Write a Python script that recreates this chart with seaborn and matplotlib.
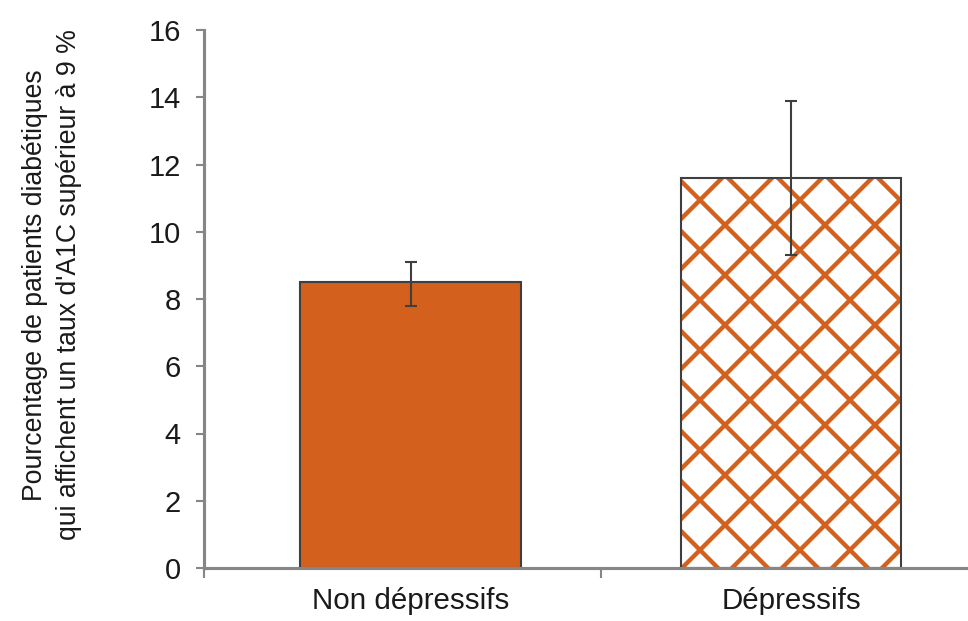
import matplotlib
matplotlib.use("Agg")
import matplotlib.pyplot as plt
import seaborn as sns
import pandas as pd
from matplotlib.colors import to_rgba

categories = ["Non dépressifs", "Dépressifs"]
values = [8.5, 11.6]
err_low = [7.8, 9.3]
err_high = [9.1, 13.9]
yticks = [0, 2, 4, 6, 8, 10, 12, 14, 16]
ylabel = "Pourcentage de patients diabétiques\nqui affichent un taux d'A1C supérieur à 9 %"

orange = "#D3601D"
edge = "#3F3F3F"
spine_c = "#868686"
text_c = "#1A1A1A"

sns.set_style("white")
plt.rcParams["font.family"] = ["Liberation Sans", "DejaVu Sans"]
plt.rcParams["hatch.linewidth"] = 1.05

DPI = 300
fig = plt.figure(figsize=(968 / DPI, 621 / DPI), dpi=DPI)
ax = fig.add_axes([204 / 968, 1 - 568 / 621, (968 - 204) / 968, (568 - 30) / 621])

df = pd.DataFrame({"cat": categories, "val": values})
sns.barplot(data=df, x="cat", y="val", hue="cat", palette=[orange, "white"],
            width=0.58, legend=False, ax=ax, errorbar=None, saturation=1)

for i, p in enumerate(ax.patches):
    p.set_edgecolor(edge)
    p.set_linewidth(0.5)
    if i == 1:
        p.set_facecolor("white")
        p.set_hatch("xx")
        p._hatch_color = to_rgba(orange)

lower = [v - l for v, l in zip(values, err_low)]
upper = [h - v for v, h in zip(values, err_high)]
ax.errorbar(x=[0, 1], y=values, yerr=[lower, upper], fmt="none",
            ecolor=edge, elinewidth=0.5, capsize=1.5, capthick=0.5, zorder=5)

xleft = -0.543
ax.set_xlim(xleft, 1.465)
ax.set_ylim(0, 16)
ax.set_yticks(yticks)
ax.set_yticklabels([str(t) for t in yticks])

for s in ["top", "right"]:
    ax.spines[s].set_visible(False)
for s in ["left", "bottom"]:
    ax.spines[s].set_color(spine_c)
    ax.spines[s].set_linewidth(0.75)

ax.tick_params(axis="y", direction="out", length=2.0, width=0.5, color=spine_c,
               labelsize=7.0, labelcolor=text_c, pad=3.6, left=True)
ax.tick_params(axis="x", which="major", length=0, labelsize=7.1,
               labelcolor=text_c, pad=4.6)
ax.set_xticks([xleft, 0.5], minor=True)
ax.tick_params(axis="x", which="minor", direction="out", length=2.4, width=0.5,
               color=spine_c, bottom=True)

ax.set_xlabel("")
ax.set_ylabel("")
fig.text(52 / 968, 1 - 285 / 621, ylabel, rotation=90, ha="center", va="center",
         multialignment="center", fontsize=6.4, color=text_c, linespacing=1.4,
         family=["Liberation Sans Narrow", "Liberation Sans", "DejaVu Sans"])

fig.savefig("out.png", dpi=DPI)
